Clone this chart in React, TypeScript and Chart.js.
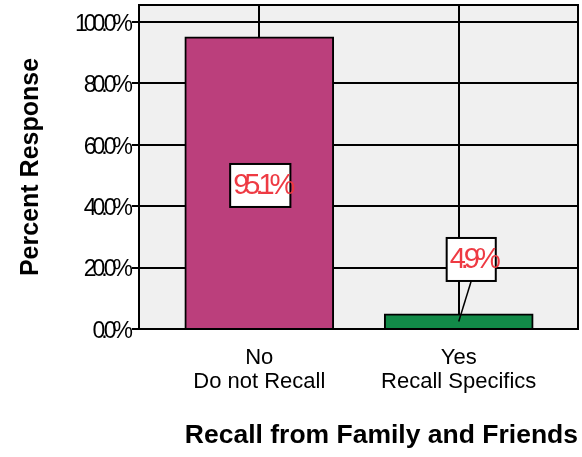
import React, { useEffect, useRef } from "react";
import { Chart, registerables } from "chart.js";

Chart.register(...registerables);

// ---- data ----
const categories = ["No", "Yes"];
const categoryDetails = ["Do not Recall", "Recall Specifics"];
const percentValues = [95.1, 4.9];
const valueLabels = ["95.1%", "4.9%"];
const yTickValues = [0, 20, 40, 60, 80, 100];
const yTickLabels = ["0.0%", "20.0%", "40.0%", "60.0%", "80.0%", "100.0%"];

// ---- styles / layout ----
const barColors = ["#bb3f7c", "#128a48"];
const FONT = "'Liberation Sans', Arial, Helvetica, sans-serif";
const Y_MAX = 105.5;
const X_MIN = -0.603;
const X_MAX = 1.598;
const labelShiftX = [1, 12.5];
const labelShiftY = [2.5, -62];
const labelLeader = [false, true];

const decorPlugin = {
  id: "decor",
  beforeDraw(chart: any) {
    const { ctx, chartArea: a } = chart;
    ctx.save();
    ctx.fillStyle = "#f0f0f0";
    ctx.fillRect(a.left, a.top, a.right - a.left, a.bottom - a.top);
    ctx.restore();
  },
  afterDatasetsDraw(chart: any) {
    const { ctx, chartArea: a } = chart;
    const ys = chart.scales.y;
    ctx.save();
    ctx.strokeStyle = "#000";
    ctx.lineWidth = 2;
    ctx.strokeRect(a.left, a.top, a.right - a.left, a.bottom - a.top);

    // y tick labels (condensed)
    ctx.font = `23px ${FONT}`;
    (ctx as any).letterSpacing = "-4px";
    ctx.fillStyle = "#000";
    ctx.textAlign = "right";
    ctx.textBaseline = "middle";
    yTickValues.forEach((v, i) => {
      ctx.fillText(yTickLabels[i], a.left - 10, ys.getPixelForValue(v) + 2.5);
    });

    // value labels
    const meta = chart.getDatasetMeta(0);
    ctx.font = `29px ${FONT}`;
    (ctx as any).letterSpacing = "-5px";
    meta.data.forEach((bar: any, i: number) => {
      const ax = bar.x;
      const ay = ys.getPixelForValue(percentValues[i] / 2);
      const cx = ax + labelShiftX[i];
      const cy = ay + labelShiftY[i];
      const w = ctx.measureText(valueLabels[i]).width + 5;
      const bw = w - 2;
      const bh = 43;
      const bx = cx - bw / 2;
      const by = cy - bh / 2;
      if (labelLeader[i]) {
        ctx.beginPath();
        ctx.lineWidth = 1.5;
        ctx.moveTo(cx, by + bh);
        ctx.lineTo(ax, ay);
        ctx.stroke();
      }
      ctx.fillStyle = "#fff";
      ctx.fillRect(bx, by, bw, bh);
      ctx.lineWidth = 2;
      ctx.strokeStyle = "#000";
      ctx.strokeRect(bx, by, bw, bh);
      ctx.fillStyle = "#ee3a43";
      ctx.textAlign = "left";
      ctx.textBaseline = "middle";
      ctx.fillText(valueLabels[i], bx + 3, cy + 1);
    });
    ctx.restore();
  },
};

export default function App() {
  const canvasRef = useRef<HTMLCanvasElement | null>(null);

  useEffect(() => {
    document.body.style.margin = "0";
    const canvas = canvasRef.current;
    if (!canvas) return;
    const chart = new Chart(canvas, {
      type: "bar",
      data: {
        datasets: [
          {
            data: percentValues.map((v, i) => ({ x: i, y: v })),
            backgroundColor: barColors,
            borderColor: "#000",
            borderWidth: 2,
            barThickness: 149,
          } as any,
        ],
      },
      options: {
        responsive: false,
        animation: false,
        devicePixelRatio: 1,
        layout: { padding: { top: 5, right: 4, left: 0, bottom: 0 } },
        plugins: { legend: { display: false }, tooltip: { enabled: false } },
        scales: {
          x: {
            type: "linear",
            min: X_MIN,
            max: X_MAX,
            offset: false,
            afterBuildTicks: (s: any) => {
              s.ticks = categories.map((_, i) => ({ value: i }));
            },
            afterFit: (s: any) => {
              s.height = 128;
            },
            ticks: {
              autoSkip: false,
              maxRotation: 0,
              minRotation: 0,
              padding: 16.5,
              color: "#000",
              font: { family: FONT, size: 22, lineHeight: 24 / 22 },
              callback: (_v: any, i: number) => [categories[i], categoryDetails[i]],
            },
            grid: { color: "#000", lineWidth: 2, drawTicks: false, offset: false },
            border: { display: false },
            title: {
              display: true,
              text: "Recall from Family and Friends",
              align: "end",
              color: "#000",
              font: { family: FONT, size: 26.5, weight: "bold", lineHeight: 1 },
              padding: { top: 0, bottom: 8 },
            },
          } as any,
          y: {
            type: "linear",
            min: 0,
            max: Y_MAX,
            afterBuildTicks: (s: any) => {
              s.ticks = yTickValues.map((v) => ({ value: v }));
            },
            afterFit: (s: any) => {
              s.width = 139;
            },
            ticks: { display: false },
            grid: { color: "#000", lineWidth: 2, drawTicks: true, tickLength: 7 },
            border: { display: false },
            title: {
              display: true,
              text: "Percent Response",
              color: "#000",
              font: { family: FONT, size: 25, weight: "bold", lineHeight: 1 },
              padding: { top: 19, bottom: 0 },
            },
          } as any,
        },
      },
      plugins: [decorPlugin],
    });
    return () => chart.destroy();
  }, []);

  return (
    <div style={{ width: 582, height: 457 }}>
      <canvas ref={canvasRef} width={582} height={457} />
    </div>
  );
}
